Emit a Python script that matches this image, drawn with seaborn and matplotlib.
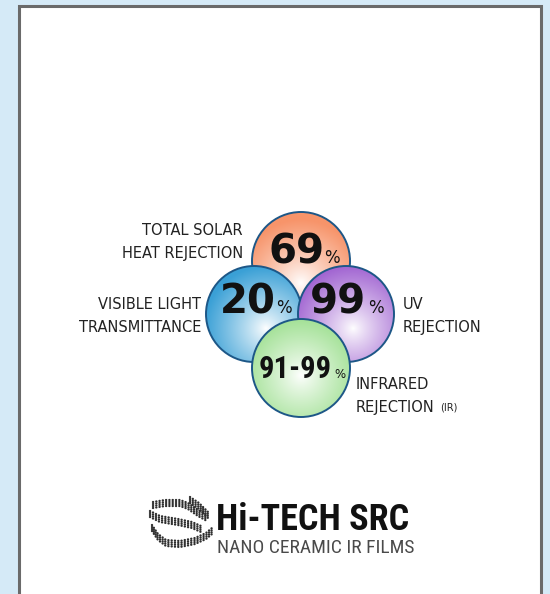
import numpy as np
import seaborn as sns
import matplotlib.pyplot as plt
from matplotlib import font_manager
from matplotlib.patches import Circle, Rectangle
from matplotlib.colors import LinearSegmentedColormap

# values shown in the bubbles
metrics = ["TOTAL SOLAR\nHEAT REJECTION", "VISIBLE LIGHT\nTRANSMITTANCE", "UV\nREJECTION", "INFRARED\nREJECTION"]
values = ["69", "20", "99", "91-99"]
edge_colors = ["#f7946a", "#3aa0d6", "#a266d2", "#9ade8c"]
brand = "Hi-TECH SRC"
tagline = "NANO CERAMIC IR FILMS"


def pick_font(candidates, default="DejaVu Sans"):
    names = {f.name for f in font_manager.fontManager.ttflist}
    for c in candidates:
        if c in names:
            return c
    return default


narrow = pick_font(["Liberation Sans Narrow", "DejaVu Sans Condensed", "Roboto Condensed",
                    "Open Sans Condensed", "Roboto"])

sns.set_theme(style="white")
plt.rcParams['font.family'] = ['DejaVu Sans']

fig = plt.figure(figsize=(5.5, 5.94), dpi=100)
fig.patch.set_facecolor("#d5eaf7")
ax = fig.add_axes([0, 0, 1, 1])
ax.set_xlim(0, 550)
ax.set_ylim(594, 0)
ax.axis("off")

# page
ax.add_patch(Rectangle((19, 6), 522, 600, facecolor="white", edgecolor="#6a6a6a", lw=2.2, zorder=0))

# bubble layout: center x, center y, radius
circles = [(301, 261, 49), (254, 314, 48), (346, 314, 48), (301, 368, 49)]
# number: x center, baseline, font size, family ; percent: x left, size
numbers = [(296.5, 263, 29, "DejaVu Sans", 324, 12),
           (248, 313, 29, "DejaVu Sans", 276, 12),
           (337.5, 313, 29, "DejaVu Sans", 368, 12),
           (295.5, 378, 22, narrow, 334, 8.5)]
highlights = [(0.0, 0.45), (0.25, 0.3), (0.15, 0.3), (0.0, 0.15)]

yy, xx = np.mgrid[-1:1:200j, -1:1:200j]
for i, ((cx, cy, r), col) in enumerate(zip(circles, edge_colors)):
    cmap = LinearSegmentedColormap.from_list("g%d" % i, ["#ffffff", col])
    hx, hy = highlights[i]
    d = np.sqrt((xx - hx) ** 2 + (yy - hy) ** 2)
    d = np.clip(d / 1.3, 0, 1) ** 0.85
    im = ax.imshow(d, cmap=cmap, vmin=0, vmax=1, extent=(cx - r, cx + r, cy + r, cy - r),
                   zorder=2 + i, interpolation="bilinear")
    circ = Circle((cx, cy), r, facecolor="none", edgecolor="#1d5787", lw=1.4, zorder=2 + i)
    ax.add_patch(circ)
    im.set_clip_path(circ)

for val, (nx, ny, fs, fam, px, pfs) in zip(values, numbers):
    ax.text(nx, ny, val, fontsize=fs, fontweight="bold", family=fam, color="#111111",
            ha="center", va="baseline", zorder=10)
    ax.text(px, ny, "%", fontsize=pfs, color="#111111", ha="left", va="baseline", zorder=10)

txt_kw = dict(fontsize=10.5, color="#222222", linespacing=1.6)
ax.text(243, 242, metrics[0], ha="right", va="center", multialignment="right", **txt_kw)
ax.text(201, 316, metrics[1], ha="right", va="center", multialignment="right", **txt_kw)
ax.text(403, 316, metrics[2], ha="left", va="center", **txt_kw)
ax.text(356, 396, metrics[3], ha="left", va="center", **txt_kw)
ax.text(440, 408, "(IR)", ha="left", va="center", fontsize=7, color="#222222")

# logo
ax.text(216, 530, brand, fontsize=26, fontweight="heavy", family=narrow,
        color="#111111", ha="left", va="baseline")
ax.text(217, 553, tagline, fontsize=14, family=narrow,
        color="#4a4a4a", ha="left", va="baseline")

# dotted swirl mark
swirl = [
    ([153, 165, 180, 188, 198, 207], [505, 503, 503, 506, 513, 518]),
    ([150, 160, 178, 192, 201], [514, 519, 522, 525, 529]),
    ([190, 199, 208], [500, 506, 515]),
    ([152, 158, 166, 180, 195, 206, 212], [528, 537, 543, 544, 541, 536, 531]),
]
for xs, ys in swirl:
    for off in (-3.0, -1.0, 1.0, 3.0):
        ax.plot(xs, np.array(ys) + off, color="#2e2e2e", lw=1.7,
                ls=(0, (0.05, 1.35)), dash_capstyle="round")

fig.savefig("out.png", dpi=100, facecolor=fig.get_facecolor())
